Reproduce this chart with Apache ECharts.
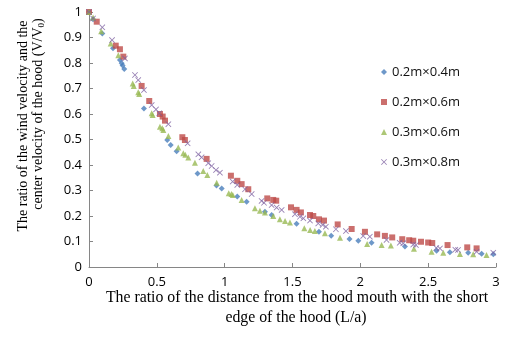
<!DOCTYPE html>
<html>
<head>
<meta charset="utf-8">
<script src="https://cdn.jsdelivr.net/npm/echarts@6/dist/echarts.min.js"></script>
<style>
  html, body { margin: 0; padding: 0; background: #fff; }
  #main { width: 505px; height: 337px; }
</style>
</head>
<body>
<div id="main"></div>
<script>
// series names (hood sizes)
var seriesNames = ['0.2m×0.4m', '0.2m×0.6m', '0.3m×0.6m', '0.3m×0.8m'];

// [L/a, V/V0] points
var hood02x04 = [
  [0, 1], [0.03, 0.972], [0.098, 0.916], [0.177, 0.858], [0.228, 0.812], [0.241, 0.799],
  [0.248, 0.79], [0.26, 0.776], [0.405, 0.622], [0.577, 0.498], [0.602, 0.478], [0.646, 0.454],
  [0.8, 0.367], [0.94, 0.32], [0.978, 0.308], [1.093, 0.276], [1.162, 0.256], [1.297, 0.217],
  [1.346, 0.204], [1.53, 0.17], [1.695, 0.138], [1.785, 0.123], [1.92, 0.11], [1.985, 0.103],
  [2.083, 0.095], [2.329, 0.08], [2.562, 0.064], [2.66, 0.058], [2.795, 0.056], [2.894, 0.052],
  [2.98, 0.05]
];
var hood02x06 = [
  [0, 1], [0.057, 0.962], [0.197, 0.868], [0.228, 0.854], [0.253, 0.825], [0.388, 0.71],
  [0.444, 0.651], [0.523, 0.6], [0.543, 0.59], [0.56, 0.574], [0.688, 0.509], [0.707, 0.498],
  [0.867, 0.424], [1.046, 0.358], [1.093, 0.338], [1.125, 0.325], [1.174, 0.305], [1.314, 0.269],
  [1.358, 0.263], [1.38, 0.26], [1.489, 0.234], [1.53, 0.224], [1.562, 0.214], [1.629, 0.204],
  [1.653, 0.2], [1.695, 0.187], [1.732, 0.182], [1.833, 0.167], [1.936, 0.149], [2.034, 0.138],
  [2.124, 0.128], [2.181, 0.122], [2.235, 0.116], [2.309, 0.109], [2.36, 0.105], [2.39, 0.103],
  [2.447, 0.099], [2.5, 0.096], [2.53, 0.094], [2.643, 0.086], [2.788, 0.077], [2.857, 0.073]
];
var hood03x06 = [
  [0, 1], [0.03, 0.978], [0.09, 0.925], [0.16, 0.876], [0.216, 0.83], [0.322, 0.72],
  [0.33, 0.71], [0.363, 0.685], [0.37, 0.678], [0.462, 0.603], [0.469, 0.596], [0.523, 0.55],
  [0.54, 0.544], [0.548, 0.537], [0.585, 0.514], [0.658, 0.469], [0.695, 0.446], [0.71, 0.44],
  [0.732, 0.429], [0.781, 0.409], [0.842, 0.376], [0.872, 0.361], [0.941, 0.33], [1.03, 0.289],
  [1.05, 0.286], [1.06, 0.282], [1.125, 0.263], [1.223, 0.23], [1.26, 0.221], [1.297, 0.214],
  [1.358, 0.2], [1.407, 0.187], [1.445, 0.18], [1.481, 0.175], [1.587, 0.152], [1.63, 0.145],
  [1.665, 0.141], [1.739, 0.132], [1.85, 0.115], [2.05, 0.09], [2.157, 0.086], [2.225, 0.084],
  [2.395, 0.072], [2.525, 0.06], [2.611, 0.056], [2.734, 0.051], [2.832, 0.05], [2.93, 0.047]
];
var hood03x08 = [
  [0, 1], [0.03, 0.975], [0.098, 0.94], [0.17, 0.89], [0.265, 0.818], [0.339, 0.753],
  [0.363, 0.733], [0.405, 0.694], [0.462, 0.635], [0.494, 0.618], [0.518, 0.603], [0.585, 0.56],
  [0.727, 0.485], [0.806, 0.442], [0.83, 0.43], [0.879, 0.407], [0.904, 0.396], [0.936, 0.38],
  [0.965, 0.37], [1.059, 0.335], [1.093, 0.322], [1.15, 0.305], [1.199, 0.286], [1.272, 0.259],
  [1.29, 0.252], [1.346, 0.243], [1.383, 0.233], [1.42, 0.224], [1.518, 0.207], [1.555, 0.197],
  [1.58, 0.191], [1.629, 0.182], [1.69, 0.171], [1.722, 0.165], [1.746, 0.158], [1.82, 0.148],
  [1.894, 0.141], [2.021, 0.122], [2.07, 0.119], [2.193, 0.106], [2.29, 0.095], [2.316, 0.093],
  [2.39, 0.088], [2.41, 0.086], [2.56, 0.075], [2.587, 0.073], [2.7, 0.068], [2.72, 0.067],
  [2.857, 0.06], [2.98, 0.056]
];

// axis ranges / ticks
var xMin = 0, xMax = 3, xStep = 0.5;
var yMin = 0, yMax = 1, yStep = 0.1;

var xTitle1 = 'The ratio of the distance from the hood mouth with the short';
var xTitle2 = 'edge of the hood (L/a)';
var yTitle1 = 'The ratio of the wind velocity and the';
var yTitle2 = 'center velocity of the hood (V/V{s|0})';

var crossPath = 'path://M0,1L1,0L5,4L9,0L10,1L6,5L10,9L9,10L5,6L1,10L0,9L4,5Z';

var chart = echarts.init(document.getElementById('main'));

var axisCommon = {
  axisLine: {lineStyle: {color: '#868686', width: 1}},
  axisTick: {inside: true, length: 4, lineStyle: {color: '#868686'}},
  splitLine: {show: false},
  axisLabel: {color: '#000', fontFamily: 'Open Sans', fontSize: 13}
};

chart.setOption({
  animation: false,
  grid: {left: 89, right: 9, top: 12, bottom: 70},
  legend: {
    orient: 'vertical',
    left: 376,
    top: 60,
    itemWidth: 6,
    itemHeight: 6,
    itemGap: 16,
    textStyle: {fontFamily: 'Open Sans', fontSize: 13, color: '#111', lineHeight: 14},
    data: seriesNames
  },
  xAxis: echarts.util.merge({
    type: 'value', min: xMin, max: xMax, interval: xStep,
    axisLabel: {margin: 9}
  }, axisCommon),
  yAxis: echarts.util.merge({
    type: 'value', min: yMin, max: yMax, interval: yStep,
    axisLabel: {margin: 7}
  }, axisCommon),
  graphic: [
    {type: 'text', x: 297, y: 298,
     style: {text: xTitle1, fontFamily: 'Liberation Serif', fontSize: 15.8, fill: '#000', align: 'center', verticalAlign: 'middle'}},
    {type: 'text', x: 296, y: 318,
     style: {text: xTitle2, fontFamily: 'Liberation Serif', fontSize: 15.8, fill: '#000', align: 'center', verticalAlign: 'middle'}},
    {type: 'text', x: 23, y: 126, rotation: Math.PI / 2,
     style: {text: yTitle1, fontFamily: 'Liberation Serif', fontSize: 14, fill: '#000', align: 'center', verticalAlign: 'middle'}},
    {type: 'text', x: 38, y: 114, rotation: Math.PI / 2,
     style: {text: yTitle2, fontFamily: 'Liberation Serif', fontSize: 14, fill: '#000', align: 'center', verticalAlign: 'middle',
       rich: {s: {fontFamily: 'Liberation Serif', fontSize: 9, padding: [8, 0, 0, 0]}}}}
  ],
  series: [
    {name: seriesNames[0], type: 'scatter', symbol: 'diamond', symbolSize: 6,
     itemStyle: {color: '#4A7EBB'}, data: hood02x04},
    {name: seriesNames[1], type: 'scatter', symbol: 'rect', symbolSize: 6,
     itemStyle: {color: '#BE4B48'}, data: hood02x06},
    {name: seriesNames[2], type: 'scatter', symbol: 'triangle', symbolSize: 6,
     itemStyle: {color: '#98B954'}, data: hood03x06},
    {name: seriesNames[3], type: 'scatter', symbol: crossPath, symbolSize: 6,
     itemStyle: {color: '#7D60A0'}, data: hood03x08}
  ]
});
</script>
</body>
</html>
